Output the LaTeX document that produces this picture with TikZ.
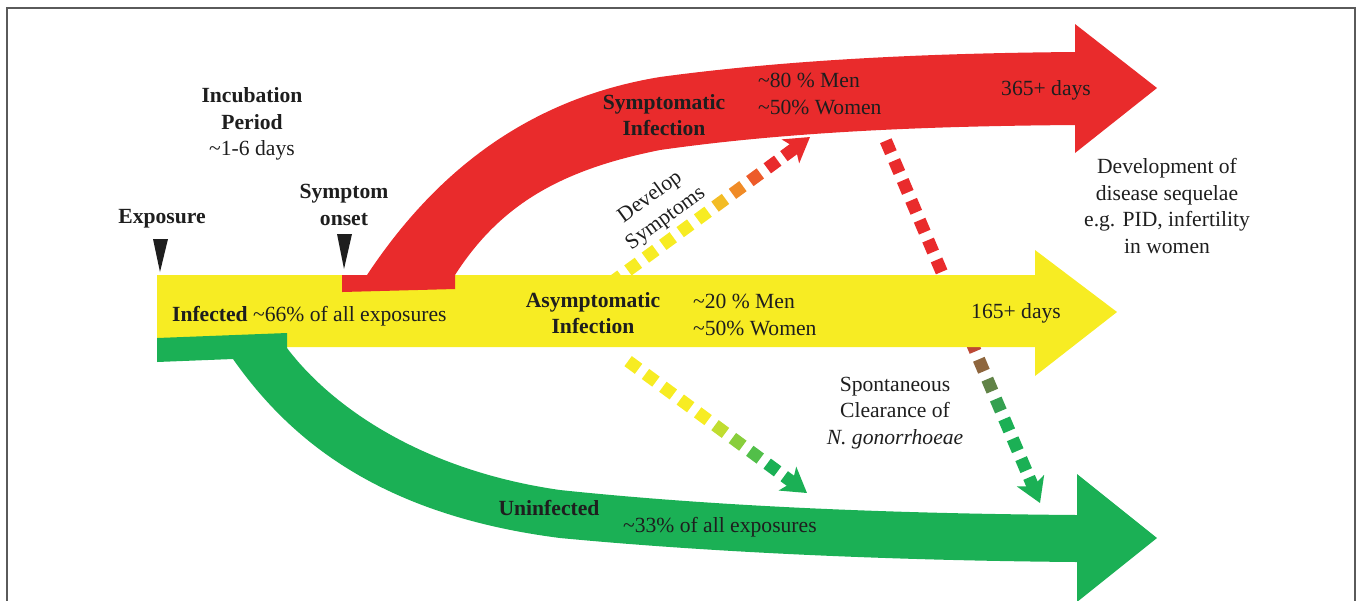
\documentclass[tikz,border=0pt]{standalone}
\usepackage{fontspec}
\setmainfont{Liberation Serif}
\usetikzlibrary{arrows.meta,calc}
\definecolor{gnink}{HTML}{1E1E1E}
\definecolor{gnframe}{HTML}{5A5A5A}
\definecolor{gnyellow}{HTML}{F7EC23}
\definecolor{gnred}{HTML}{E92B2C}
\definecolor{gngreen}{HTML}{1BB055}
\newcommand\apx{\textasciitilde}
\tikzset{
  gn text/.style={font=\fontsize{12.3}{15}\selectfont, text=gnink},
  gn label/.style={gn text, align=center, inner sep=1pt},
  gn bold/.style={gn label, font=\fontsize{12.3}{15}\selectfont\bfseries},
  gn frame/.style={draw=gnframe, line width=0.8pt},
  gn square/.style={line width=0.25cm, line cap=butt},
  gn head/.style={line width=0.25cm, -{Stealth[length=0.48cm,width=0.58cm,inset=0.12cm]}},
  gn marker/.style={fill=gnink}
}

\begin{document}
\begin{tikzpicture}[gn text, x=0.02cm, y=-0.02cm]
  \useasboundingbox (0,0) rectangle (1358,600);
  \draw[gn frame] (7,610) -- (7,8) -- (1355,8) -- (1355,610);

  \coordinate (devs) at (610.5,283.2);
  \coordinate (deve) at (810,137);
  \coordinate (clrs) at (628.1,361.1);
  \coordinate (clre) at (807,493);
  \coordinate (seqs) at (885.8,140.7);
  \coordinate (seqe) at (1040,503);
  \foreach \k in {0,...,9}{
    \pgfmathsetmacro\da{\k*0.432}
    \pgfmathsetmacro\db{\k*0.432+0.26}
    \pgfmathtruncatemacro\mix{min(100,max(0,(\k-5)*25))}
    \draw[gn square, draw=gnred!\mix!gnyellow] ($(devs)!\da cm!(deve)$) -- ($(devs)!\db cm!(deve)$);
  }
  \draw[gn head, draw=gnred] ($(devs)!4.3cm!(deve)$) -- (deve);
  \foreach \k in {0,...,8}{
    \pgfmathsetmacro\da{\k*0.432}
    \pgfmathsetmacro\db{\k*0.432+0.26}
    \pgfmathtruncatemacro\mix{min(100,max(0,(\k-4)*25))}
    \draw[gn square, draw=gngreen!\mix!gnyellow] ($(clrs)!\da cm!(clre)$) -- ($(clrs)!\db cm!(clre)$);
  }
  \draw[gn head, draw=gngreen] ($(clrs)!3.88cm!(clre)$) -- (clre);
  \foreach \k in {0,...,16}{
    \pgfmathsetmacro\da{\k*0.432}
    \pgfmathsetmacro\db{\k*0.432+0.26}
    \pgfmathtruncatemacro\mix{min(100,max(0,(\k-9)*22))}
    \draw[gn square, draw=gngreen!\mix!gnred] ($(seqs)!\da cm!(seqe)$) -- ($(seqs)!\db cm!(seqe)$);
  }
  \draw[gn head, draw=gngreen] ($(seqs)!7.32cm!(seqe)$) -- (seqe);

  \fill[gnyellow] (157,275) -- (1035,275) -- (1035,250) -- (1117,312) -- (1035,376)
    -- (1035,347) -- (157,347) -- cycle;
  \fill[gnred] (342,275) -- (367,275)
    .. controls (430,180) and (520,100) .. (660,77)
    .. controls (800,58) and (950,53) .. (1075,52)
    -- (1075,24) -- (1157,88) -- (1075,153) -- (1075,125)
    .. controls (950,126) and (800,130) .. (660,150)
    .. controls (560,170) and (500,205) .. (455,275)
    -- (455,289) -- (342,292) -- cycle;
  \fill[gngreen] (157,338) -- (287,333) -- (287,348)
    .. controls (330,405) and (420,470) .. (560,490)
    .. controls (750,510) and (950,514) .. (1077,515)
    -- (1077,474) -- (1157,538) -- (1077,602) -- (1077,562)
    .. controls (950,561) and (750,556) .. (560,538)
    .. controls (380,515) and (290,440) .. (233,359)
    -- (157,362) -- cycle;

  \fill[gn marker] (153,239) -- (168,239) -- (160,272) -- cycle;
  \fill[gn marker] (337,234) -- (352,234) -- (344,269) -- cycle;

  \node[gn label] (incub) at (252,124) {\textbf{Incubation}\\\textbf{Period}\\\apx1-6 days};
  \node[gn bold] (exposure) at (162,219) {Exposure};
  \node[gn bold] (onset) at (344,205) {Symptom\\onset};
  \node[gn label, anchor=west] (infected) at (170,316) {\textbf{Infected} \apx66\% of all exposures};
  \node[gn bold] (asym) at (593,313) {Asymptomatic\\Infection};
  \node[gn label, align=left, anchor=west] (asympct) at (691,315) {\apx20 \% Men\\\apx50\% Women};
  \node[gn bold] (symp) at (664,115) {Symptomatic\\Infection};
  \node[gn label, align=left, anchor=west] (symppct) at (756,94) {\apx80 \% Men\\\apx50\% Women};
  \node[gn label] (long) at (1046,90) {365+ days};
  \node[gn label] (mid) at (1016,313) {165+ days};
  \node[gn label] (sequelae) at (1167,206) {Development of\\disease sequelae\\e.g. PID, infertility\\in women};
  \node[gn label, rotate=36] (develop) at (658,208) {Develop\\Symptoms};
  \node[gn label] (clearance) at (895,413) {Spontaneous\\Clearance of\\\textit{N. gonorrhoeae}};
  \node[gn bold] (uninf) at (549,508) {Uninfected};
  \node[gn label, anchor=west] (uninfpct) at (621,527) {\apx33\% of all exposures};
\end{tikzpicture}
\end{document}
